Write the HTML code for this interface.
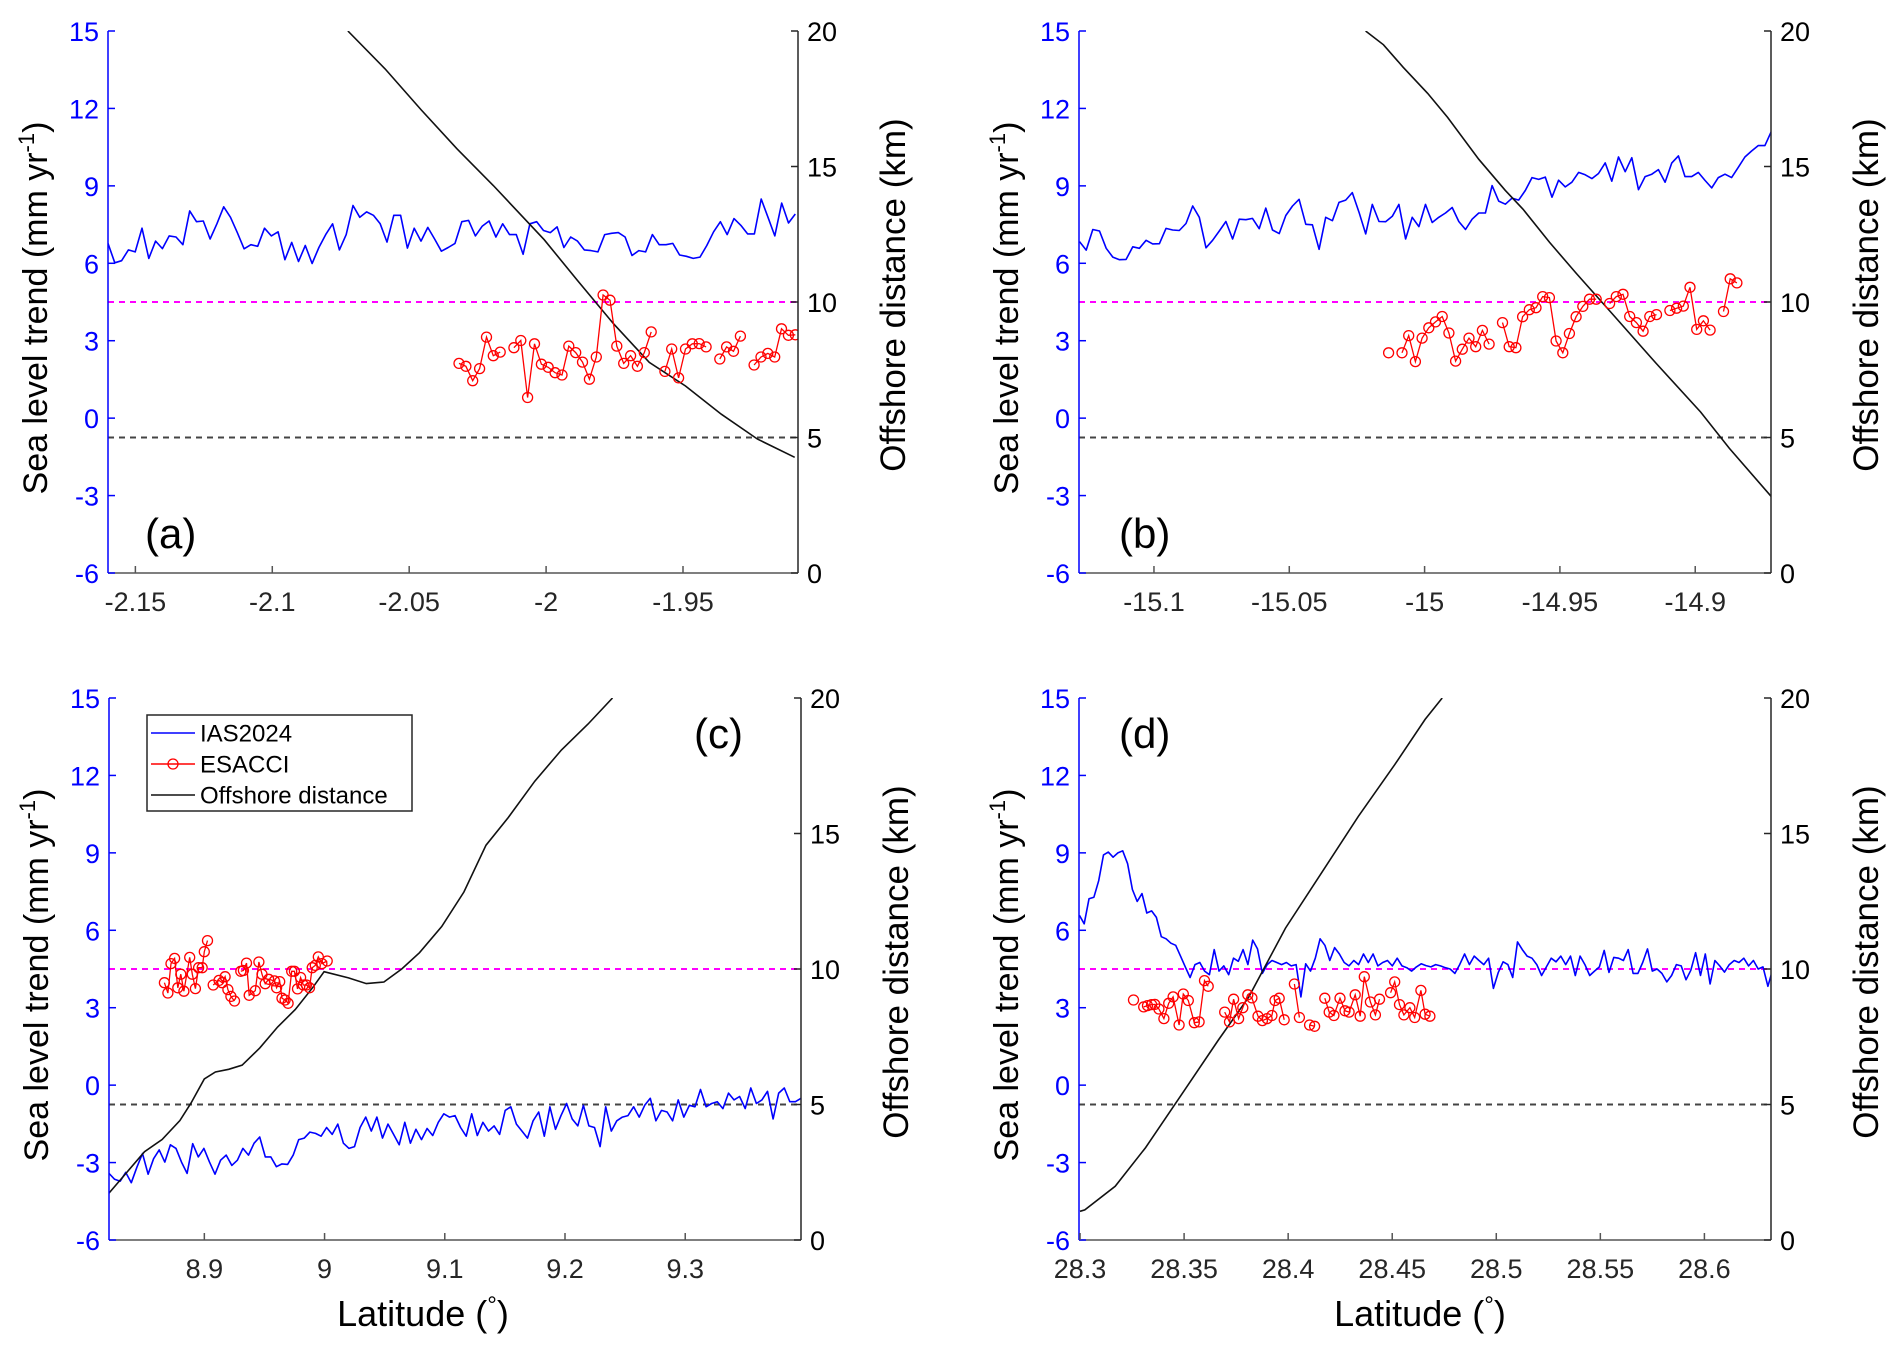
<!DOCTYPE html>
<html><head><meta charset="utf-8">
<style>
html,body{margin:0;padding:0;background:#fff;}
svg{display:block;font-family:"Liberation Sans",Arial,sans-serif;}
</style></head>
<body>
<svg id="fig" width="1892" height="1354" viewBox="0 0 1892 1354" xmlns="http://www.w3.org/2000/svg">
<rect width="1892" height="1354" fill="#fff"/>
</svg>
<script>
// ---------- Panel (a) data ----------
const aLatRange = [-2.16, -1.908];
const aIasRange = [-2.16, -1.909];
const aIas = [6.77,6.02,6.10,6.52,6.44,7.36,6.19,6.86,6.57,7.06,7.02,6.72,8.03,7.61,7.64,6.94,7.53,8.19,7.78,7.19,6.56,6.72,6.66,7.36,7.06,7.22,6.14,6.81,6.07,6.69,5.99,6.61,7.11,7.53,6.52,7.11,8.24,7.78,7.99,7.86,7.53,6.82,7.86,7.86,6.59,7.36,6.86,7.39,6.94,6.47,6.61,6.77,7.61,7.66,7.06,7.44,7.64,7.02,7.53,7.11,7.11,6.35,7.53,7.61,7.27,7.19,7.41,6.61,7.02,6.86,6.52,6.49,6.44,7.11,7.16,7.19,7.02,6.30,6.49,6.44,7.11,6.72,6.72,6.77,6.32,6.27,6.19,6.24,6.69,7.22,7.61,7.11,7.73,7.47,7.14,7.14,8.49,7.78,7.06,8.33,7.56,7.91];
const aEsaRange = [-2.0318, -1.9090];
const aEsa = [2.12,2.01,1.45,1.92,3.14,2.42,2.56,null,2.73,3.01,0.80,2.88,2.09,1.97,1.76,1.67,2.79,2.54,2.17,1.51,2.37,4.77,4.57,2.79,2.12,2.42,2.01,2.54,3.34,null,1.81,2.68,1.56,2.68,2.88,2.89,2.76,null,2.29,2.76,2.59,3.18,null,2.06,2.37,2.51,2.37,3.46,3.21,3.23];
const aDistLat = [-2.0724,-2.0588,-2.0456,-2.0325,-2.0193,-2.0007,-1.9886,-1.9754,-1.9623,-1.9491,-1.936,-1.9228,-1.9092];
const aDist = [20,18.6,17.09,15.65,14.3,12.3,10.8,9.2,7.77,6.9,5.86,4.94,4.27];
const aTicks = [-2.15,-2.1,-2.05,-2,-1.95];
const aTickLabels = ["-2.15","-2.1","-2.05","-2","-1.95"];

// ---------- Panel (b) data ----------
const bLatRange = [-15.1277, -14.872];
const bIasRange = [-15.1275, -14.8718];
const bIas = [6.84,6.51,7.31,7.25,6.58,6.24,6.14,6.15,6.64,6.58,6.89,6.75,6.76,7.35,7.29,7.27,7.54,8.22,7.78,6.60,6.89,7.25,7.62,6.94,7.71,7.69,7.74,7.34,8.14,7.29,7.15,7.85,8.22,8.48,7.51,7.49,6.54,7.78,7.65,8.36,8.45,8.74,7.98,7.14,8.28,7.62,7.61,7.82,8.28,6.94,7.78,7.42,8.28,7.58,7.78,7.95,8.16,7.62,7.31,7.71,7.95,7.95,9.01,8.41,8.29,8.52,8.45,8.82,9.32,9.25,9.34,8.56,9.22,8.96,9.14,9.52,9.43,9.28,9.48,9.89,9.18,10.12,9.55,10.09,8.85,9.36,9.45,9.63,9.14,9.88,10.16,9.36,9.36,9.52,9.21,8.92,9.32,9.45,9.32,9.72,10.12,10.35,10.56,10.56,11.12];
const bEsaRange = [-15.0133, -14.8846];
const bEsa = [2.53,null,2.53,3.20,2.19,3.10,3.50,3.73,3.94,3.30,2.21,2.67,3.10,2.77,3.40,2.87,null,3.70,2.77,2.73,3.93,4.20,4.28,4.71,4.67,2.99,2.53,3.28,3.93,4.33,4.61,4.61,null,4.44,4.71,4.80,3.94,3.70,3.37,3.94,4.01,null,4.17,4.26,4.34,5.07,3.44,3.77,3.41,null,4.13,5.40,5.24];
const bDistLat = [-15.0218,-15.0152,-15.0079,-14.9989,-14.9915,-14.98,-14.9702,-14.9636,-14.9538,-14.9439,-14.9308,-14.9144,-14.898,-14.8874,-14.8718];
const bDist = [20,19.49,18.66,17.70,16.81,15.27,14.12,13.42,12.20,11.05,9.58,7.73,5.94,4.60,2.81];
const bTicks = [-15.1,-15.05,-15,-14.95,-14.9];
const bTickLabels = ["-15.1","-15.05","-15","-14.95","-14.9"];

// ---------- Panel (c) data ----------
const cLatRange = [8.8207, 9.3963];
const cIasRange = [8.8207, 9.3963];
const cIas = [-3.42,-3.65,-3.72,-3.38,-3.78,-3.18,-2.65,-3.45,-2.85,-2.51,-2.98,-2.31,-2.45,-2.98,-3.42,-2.27,-2.78,-2.45,-2.98,-3.45,-2.91,-2.71,-3.11,-2.91,-2.45,-2.71,-2.25,-2.01,-2.78,-2.78,-3.16,-3.05,-3.07,-2.71,-2.11,-2.05,-1.82,-1.87,-1.98,-1.64,-1.91,-1.51,-2.25,-2.45,-2.38,-1.64,-1.24,-1.78,-1.24,-2.05,-1.51,-1.91,-2.31,-1.44,-2.25,-1.71,-2.11,-1.68,-1.95,-1.44,-1.11,-1.24,-1.18,-1.64,-1.98,-1.11,-1.95,-1.44,-1.78,-1.58,-1.91,-0.98,-0.84,-1.51,-1.78,-2.05,-1.38,-1.04,-1.98,-0.84,-1.71,-1.18,-0.71,-1.31,-1.58,-0.78,-1.58,-1.64,-2.38,-0.84,-1.78,-1.38,-1.24,-1.18,-0.84,-1.24,-0.78,-0.51,-1.38,-0.98,-1.04,-1.38,-0.57,-1.24,-0.78,-0.84,-0.17,-0.84,-0.71,-0.64,-0.91,-0.31,-0.57,-0.44,-0.91,-0.11,-0.71,-0.57,-0.24,-1.31,-0.31,-0.11,-0.64,-0.64,-0.51];
const cEsaLat = [8.8668,8.8697,8.8723,8.8753,8.8779,8.8804,8.8830,8.8878,8.8900,8.8926,8.8952,8.8982,8.9000,8.9026,null,8.9074,8.9122,8.9148,8.9173,8.9196,8.9221,8.9251,null,8.9303,8.9325,8.9351,8.9373,8.9424,8.9454,8.9480,8.9506,8.9535,8.9583,8.9601,8.9627,8.9646,8.9672,8.9697,8.9727,8.9749,8.9775,8.9801,8.9823,8.9849,8.9875,8.9897,8.9923,8.9948,8.9978,9.0022];
const cEsa = [3.97,3.57,4.71,4.91,3.77,4.30,3.64,4.95,4.30,3.74,4.55,4.55,5.17,5.60,null,3.88,4.06,3.97,4.20,3.70,3.44,3.26,null,4.41,4.44,4.73,3.48,3.66,4.77,4.30,3.93,4.10,4.04,3.77,4.01,3.37,3.30,3.17,4.41,4.41,3.73,4.17,3.88,3.88,3.77,4.55,4.64,4.97,4.71,4.81];
const cDistLat = [8.8207,8.8354,8.8502,8.8649,8.8797,8.8889,8.9,8.9092,8.9203,8.9314,8.9461,8.9609,8.9756,8.9904,8.9996,9.0199,9.0347,9.0494,9.0642,9.079,9.0974,9.1159,9.1343,9.1528,9.1749,9.197,9.2192,9.2395];
const cDist = [1.73,2.49,3.26,3.71,4.41,5.05,5.94,6.2,6.3,6.45,7.09,7.86,8.5,9.33,9.9,9.67,9.46,9.52,10.0,10.6,11.57,12.84,14.57,15.59,16.93,18.08,19.04,20];
const cTicks = [8.9,9,9.1,9.2,9.3];
const cTickLabels = ["8.9","9","9.1","9.2","9.3"];

// ---------- Panel (d) data ----------
const dLatRange = [28.2995, 28.632];
const dIasRange = [28.2997, 28.6328];
const dIas = [6.58,6.25,7.22,7.28,7.92,8.92,9.03,8.83,9.0,9.08,8.58,7.58,7.12,7.42,6.67,6.75,6.5,5.75,5.67,5.5,5.42,5.0,4.58,4.17,4.67,4.75,4.42,4.28,5.25,4.42,4.62,4.28,4.92,4.8,5.25,4.67,5.62,5.28,4.33,4.67,4.83,4.75,4.67,4.75,4.62,4.67,3.42,4.7,4.42,4.92,5.67,5.42,4.83,5.33,5.08,4.75,4.62,4.83,4.67,5.08,4.75,5.08,4.62,4.75,4.83,4.62,4.92,4.62,4.55,4.42,4.58,4.7,4.63,4.58,4.67,4.62,4.55,4.5,4.33,4.67,5.08,4.67,5.0,4.83,4.67,4.92,3.75,4.37,4.78,4.67,4.17,5.55,5.25,5.0,4.92,4.67,4.25,4.58,4.92,4.78,5.0,4.67,5.0,4.25,5.0,4.67,4.25,4.42,4.58,5.22,4.37,4.95,4.92,4.83,5.25,4.33,4.33,4.75,5.28,4.42,4.5,4.33,4.0,4.25,4.67,4.62,4.08,4.45,5.13,4.25,5.08,3.92,4.83,4.62,4.38,4.67,4.83,4.75,4.92,4.62,4.83,4.5,4.58,3.83,4.48];
const dEsaLat = [28.3257,null,28.3306,28.3324,28.3344,28.3359,28.3379,28.3403,28.3426,28.3447,28.3476,28.3496,28.3520,28.3549,28.3572,28.3598,28.3616,null,28.3695,28.3718,28.3738,28.3762,28.3782,28.3806,28.3826,28.3855,28.3876,28.3899,28.3922,28.3937,28.3957,28.3981,null,28.4030,28.4054,null,28.4103,28.4127,null,28.4176,28.4197,28.4220,28.4249,28.4273,28.4293,28.4322,28.4346,28.4366,28.4395,28.4419,28.4439,null,28.4492,28.4512,28.4535,28.4556,28.4585,28.4608,28.4638,28.4658,28.4681];
const dEsa = [3.30,null,3.03,3.08,3.12,3.13,2.95,2.58,3.17,3.42,2.33,3.53,3.28,2.42,2.45,4.05,3.83,null,2.83,2.45,3.33,2.58,3.0,3.5,3.38,2.67,2.5,2.58,2.70,3.28,3.37,2.53,null,3.92,2.62,null,2.33,2.28,null,3.37,2.83,2.70,3.37,2.88,2.83,3.50,2.67,4.20,3.22,2.72,3.33,null,3.58,4.0,3.12,2.72,3.0,2.62,3.67,2.75,2.67];
const dDistLat = [28.3,28.3023,28.3169,28.3315,28.3505,28.3665,28.3811,28.3987,28.4162,28.4337,28.4512,28.4658,28.474];
const dDist = [1.06,1.11,1.98,3.41,5.56,7.38,8.97,11.51,13.57,15.63,17.54,19.21,20];
const dTicks = [28.3,28.35,28.4,28.45,28.5,28.55,28.6];
const dTickLabels = ["28.3","28.35","28.4","28.45","28.5","28.55","28.6"];

// shared axis data
const leftTicks = [-6,-3,0,3,6,9,12,15];
const leftTickLabels = ["-6","-3","0","3","6","9","12","15"];
const rightTicks = [0,5,10,15,20];
const rightTickLabels = ["0","5","10","15","20"];
const refDistLines = [5,10];

const NS = "http://www.w3.org/2000/svg";
const svg = document.getElementById('fig');
function mk(tag, attrs, parent){
  const e = document.createElementNS(NS, tag);
  for (const k in attrs) e.setAttribute(k, attrs[k]);
  (parent||svg).appendChild(e);
  return e;
}
function evenLat(range, n, i){ return range[0] + (range[1]-range[0]) * i / (n-1); }

function drawPanel(p){
  const g = mk('g', {});
  
  
  const X = v => p.x0 + (v - p.lat[0]) / (p.lat[1]-p.lat[0]) * (p.x1 - p.x0);
  const YL = v => p.y1 - (v + 6) / 21 * (p.y1 - p.y0);
  const YR = v => p.y1 - v / 20 * (p.y1 - p.y0);
  const clipId = 'clip' + p.id;
  const cp = mk('clipPath', {id: clipId}, g);
  mk('rect', {x:p.x0, y:p.y0, width:p.x1-p.x0, height:p.y1-p.y0}, cp);
  const plot = mk('g', {'clip-path':'url(#'+clipId+')'}, g);

  refDistLines.forEach(v => {
    const ln = mk('line', {x1:p.x0, x2:p.x1, y1:YR(v), y2:YR(v), stroke: v===10?'#ff00ff':'#444', 'stroke-width':2, 'stroke-dasharray':'6,5'}, plot);
    
    
  });

  let d = '';
  p.ias.forEach((v,i) => { d += (i?'L':'M') + X(evenLat(p.iasRange, p.ias.length, i)).toFixed(1) + ',' + YL(v).toFixed(1); });
  const ias = mk('path', {d:d, fill:'none', stroke:'#0000ff', 'stroke-width':1.6, 'stroke-linejoin':'round'}, plot);
  
  

  d = '';
  p.distLat.forEach((v,i) => { d += (i?'L':'M') + X(v).toFixed(1) + ',' + YR(p.dist[i]).toFixed(1); });
  const dist = mk('path', {d:d, fill:'none', stroke:'#111', 'stroke-width':1.6}, plot);
  
  

  const esaG = mk('g', {}, plot);
  
  
  d = ''; let pen = false;
  const pts = [];
  p.esa.forEach((v,i) => {
    const la = p.esaLat ? p.esaLat[i] : evenLat(p.esaRange, p.esa.length, i);
    if (v === null || la === null){ pen = false; return; }
    const px = X(la), py = YL(v);
    d += (pen?'L':'M') + px.toFixed(1) + ',' + py.toFixed(1);
    pen = true; pts.push([px,py]);
  });
  const esaLine = mk('path', {d:d, fill:'none', stroke:'#ff0000', 'stroke-width':1.3}, esaG);
  
  
  pts.forEach(q => {
    const c = mk('circle', {cx:q[0].toFixed(1), cy:q[1].toFixed(1), r:5, fill:'none', stroke:'#ff0000', 'stroke-width':1.3}, esaG);
    
    
  });

  const la = mk('line', {x1:p.x0, x2:p.x0, y1:p.y0, y2:p.y1, stroke:'#0000ff', 'stroke-width':1.5}, g);
  
  
  const ra = mk('line', {x1:p.x1, x2:p.x1, y1:p.y0, y2:p.y1, stroke:'#262626', 'stroke-width':1.5}, g);
  
  
  const ba = mk('line', {x1:p.x0, x2:p.x1, y1:p.y1, y2:p.y1, stroke:'#555', 'stroke-width':1.5}, g);
  
  

  leftTicks.forEach((v,i) => {
    const y = YL(v);
    mk('line', {x1:p.x0, x2:p.x0+7, y1:y, y2:y, stroke:'#0000ff', 'stroke-width':1.5}, g);
    const t = mk('text', {x:p.x0-9, y:y+10, 'text-anchor':'end', 'font-size':27, fill:'#0000ff'}, g);
    t.textContent = leftTickLabels[i];
    
    
  });
  rightTicks.forEach((v,i) => {
    const y = YR(v);
    mk('line', {x1:p.x1-7, x2:p.x1, y1:y, y2:y, stroke:'#262626', 'stroke-width':1.5}, g);
    const t = mk('text', {x:p.x1+9, y:y+10, 'text-anchor':'start', 'font-size':27, fill:'#000'}, g);
    t.textContent = rightTickLabels[i];
    
    
  });
  p.ticks.forEach((v,i) => {
    const x = X(v);
    mk('line', {x1:x, x2:x, y1:p.y1, y2:p.y1-7, stroke:'#555', 'stroke-width':1.5}, g);
    const t = mk('text', {x:x, y:p.y1+38, 'text-anchor':'middle', 'font-size':27, fill:'#262626'}, g);
    t.textContent = p.tickLabels[i];
    
    
  });

  const cy = (p.y0+p.y1)/2;
  const yl = mk('text', {x:0, y:0, transform:'translate('+(p.x0-61)+','+(cy+6)+') rotate(-90)', 'text-anchor':'middle', 'font-size':34, fill:'#000'}, g);
  yl.innerHTML = 'Sea level trend (mm yr<tspan dy="-13" font-size="22">-1</tspan><tspan dy="13">)</tspan>';
  
  
  const yr = mk('text', {x:0, y:0, transform:'translate('+(p.x1+107)+','+(cy-7)+') rotate(-90)', 'text-anchor':'middle', 'font-size':35, fill:'#000'}, g);
  yr.textContent = 'Offshore distance (km)';
  
  

  const pl = mk('text', {x:p.labX, y:p.labY, 'font-size':42, fill:'#000'}, g);
  pl.textContent = '(' + p.id + ')';
  
  

  if (p.xlabel){
    const xl = mk('text', {x:(p.x0+p.x1)/2+p.xlOff, y:p.y1+86, 'text-anchor':'middle', 'font-size':36, fill:'#000'}, g);
    xl.innerHTML = 'Latitude (<tspan dy="-13" font-size="24">°</tspan><tspan dy="13">)</tspan>';
    
    
  }
}

drawPanel({id:'a', x0:108, x1:798, y0:31, y1:573, lat:aLatRange, ias:aIas, iasRange:aIasRange, esa:aEsa, esaRange:aEsaRange, distLat:aDistLat, dist:aDist, ticks:aTicks, tickLabels:aTickLabels, labX:145, labY:548});
drawPanel({id:'b', x0:1079, x1:1771, y0:31, y1:573, lat:bLatRange, ias:bIas, iasRange:bIasRange, esa:bEsa, esaRange:bEsaRange, distLat:bDistLat, dist:bDist, ticks:bTicks, tickLabels:bTickLabels, labX:1119, labY:548});
drawPanel({id:'c', x0:109, x1:801, y0:698, y1:1240, lat:cLatRange, ias:cIas, iasRange:cIasRange, esa:cEsa, esaLat:cEsaLat, distLat:cDistLat, dist:cDist, ticks:cTicks, tickLabels:cTickLabels, labX:694, labY:748, xlabel:true, xlOff:-32});
drawPanel({id:'d', x0:1079, x1:1771, y0:698, y1:1240, lat:dLatRange, ias:dIas, iasRange:dIasRange, esa:dEsa, esaLat:dEsaLat, distLat:dDistLat, dist:dDist, ticks:dTicks, tickLabels:dTickLabels, labX:1119, labY:748, xlabel:true, xlOff:-5});

// legend in panel (c)
const lg = mk('g', {});


mk('rect', {x:147, y:715, width:265, height:96, fill:'#fff', stroke:'#262626', 'stroke-width':1.5}, lg);
const legendItems = [['IAS2024','#0000ff',false],['ESACCI','#ff0000',true],['Offshore distance','#111',false]];
legendItems.forEach((it,i) => {
  const y = 733 + i*31;
  const e = mk('g', {}, lg);
  
  
  mk('line', {x1:151, x2:195, y1:y, y2:y, stroke:it[1], 'stroke-width':1.5}, e);
  if (it[2]) mk('circle', {cx:173, cy:y, r:5, fill:'none', stroke:it[1], 'stroke-width':1.3}, e);
  const t = mk('text', {x:200, y:y+8.5, 'font-size':24, fill:'#000'}, e);
  t.textContent = it[0];
});
</script>
</body></html>
